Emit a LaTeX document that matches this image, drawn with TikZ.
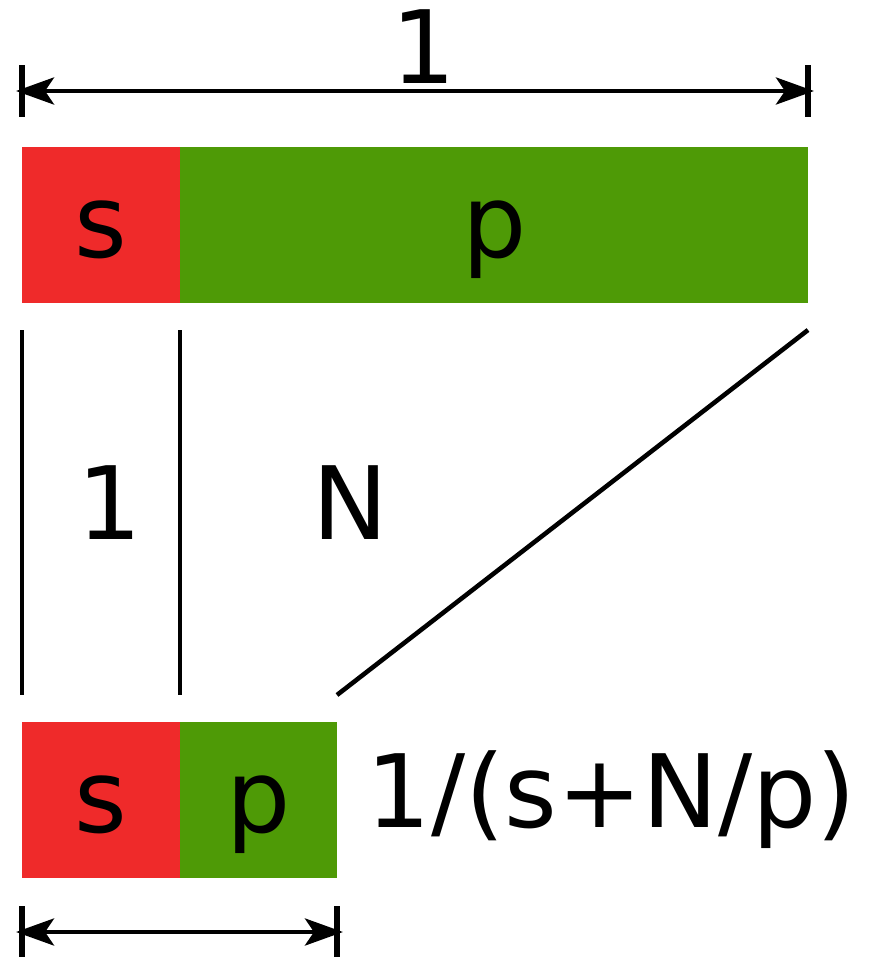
\documentclass[tikz,border=0pt]{standalone}
\usepackage{fontspec}
\setmainfont{DejaVu Sans}
\usepackage{tikz}
\usetikzlibrary{arrows.meta,positioning}

\definecolor{serialred}{HTML}{EF2A2A}
\definecolor{pargreen}{HTML}{4E9A06}

\begin{document}
\begin{tikzpicture}[
  x=0.01cm, y=-0.01cm,
  font=\fontsize{28.8}{35}\selectfont,
  bar/.style={
    rectangle, inner sep=0pt, outer sep=0pt, minimum height=1.56cm,
    text height=0.64cm, text depth=0pt
  },
  S/.style={bar, fill=serialred, minimum width=1.58cm},
  P/.style={bar, fill=pargreen},
  dim/.style={{Stealth[length=0.38cm,width=0.27cm,inset=0.09cm]}-{Stealth[length=0.38cm,width=0.27cm,inset=0.09cm]}, line width=1.35pt},
  tick/.style={line width=1.45pt},
  guide/.style={line width=1.3pt},
  lbl/.style={anchor=base, inner sep=0pt}
]
\useasboundingbox (0,0) rectangle (879,957);

\node[S, anchor=north west]            (s1) at (22,147) {s};
\node[P, right=0cm of s1, minimum width=6.28cm] (p1) {p};

\node[S, anchor=north west]            (s2) at (22,722) {s};
\node[P, right=0cm of s2, minimum width=1.57cm] (p2) {p};

\node[lbl] (one)   at (424,83)  {1};
\node[lbl] (oneS)  at (110,539) {1};
\node[lbl] (N)     at (350,539) {N};
\node[lbl, anchor=base west] (speed) at (366,827) {1/(s+N/p)};

\coordinate (a1) at (16,91);
\coordinate (a2) at (814,91);
\coordinate (b1) at (16,932);
\coordinate (b2) at (343,932);

\draw[tick] (22,65) -- (22,117);
\draw[tick] (808,65) -- (808,117);
\draw[dim] (a1) -- (a2);

\draw[tick] (22,906) -- (22,957);
\draw[tick] (337,906) -- (337,957);
\draw[dim] (b1) -- (b2);

\coordinate (v1t) at (22,330);
\coordinate (v1b) at (22,695);
\coordinate (v2t) at (180,330);
\coordinate (v2b) at (180,695);
\coordinate (dt)  at (808,330);
\coordinate (db)  at (337,695);

\draw[guide] (v1t) -- (v1b);
\draw[guide] (v2t) -- (v2b);
\draw[guide] (dt) -- (db);

\end{tikzpicture}
\end{document}
